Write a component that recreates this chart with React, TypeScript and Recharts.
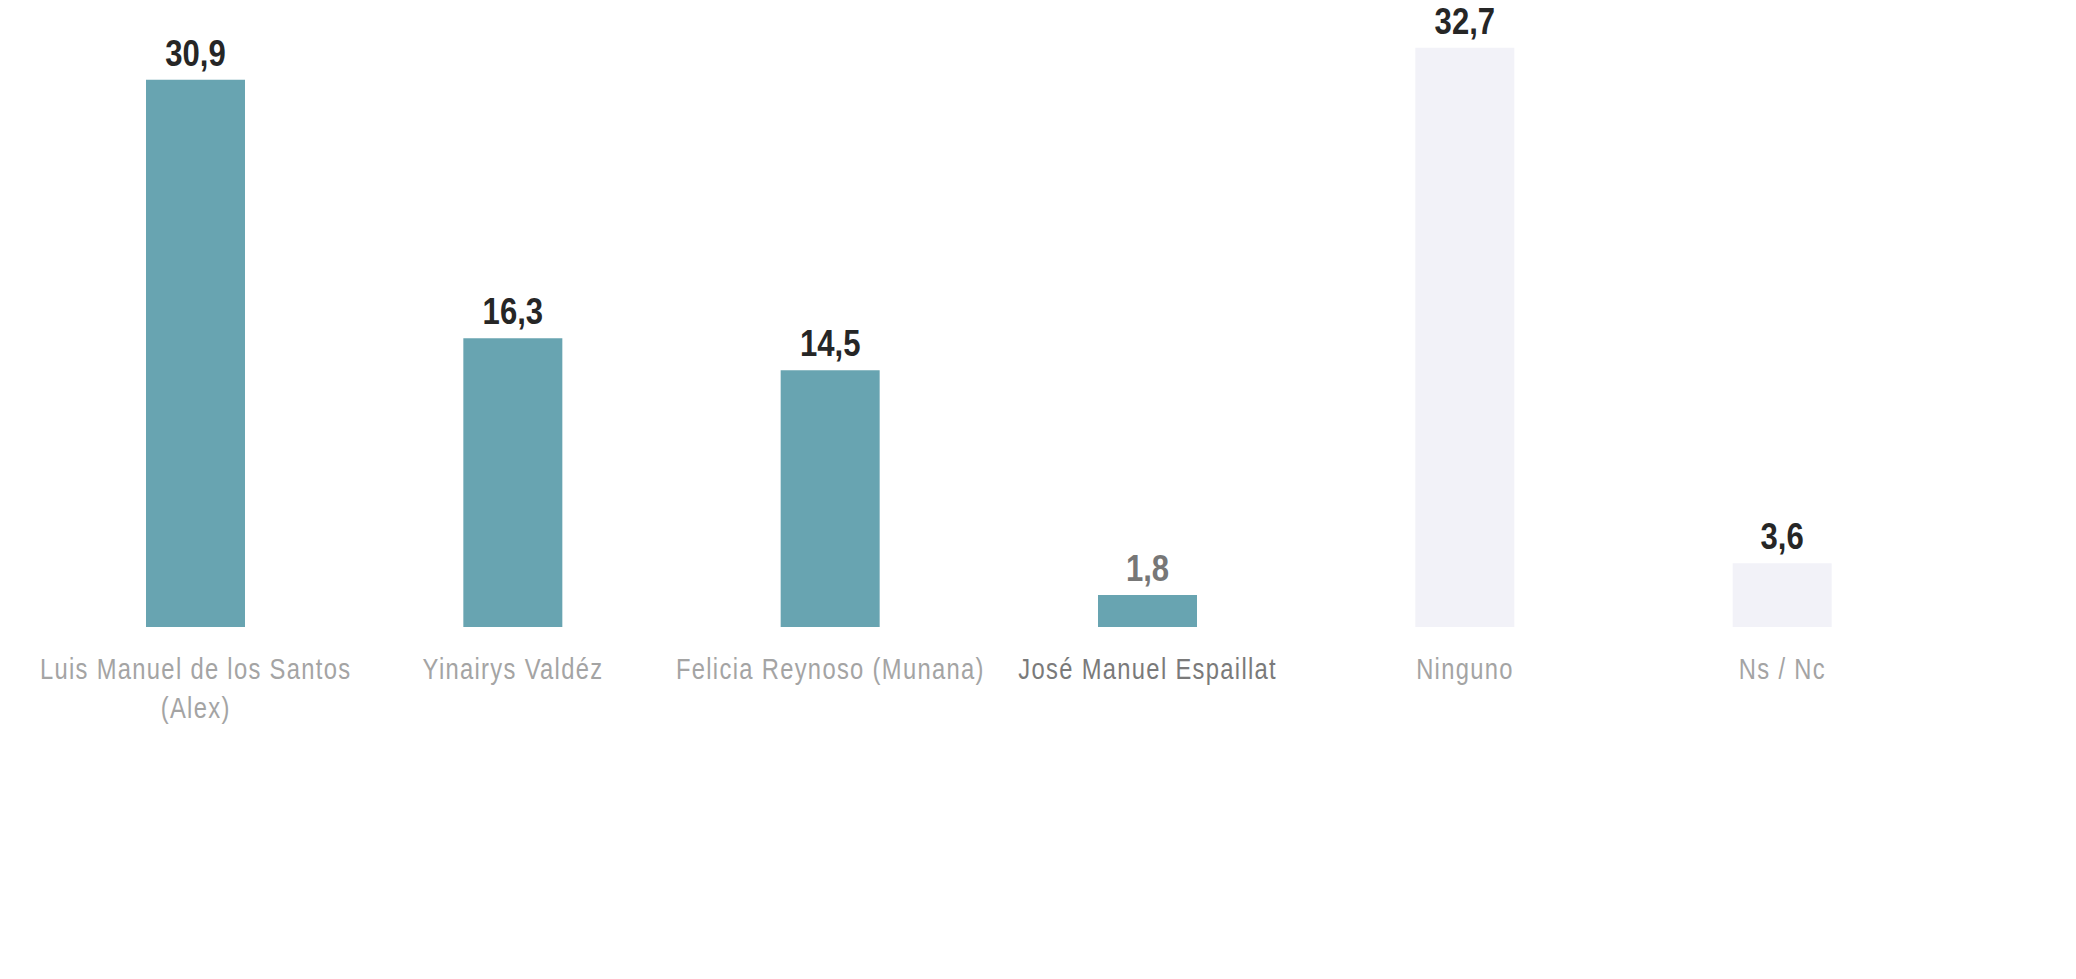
import React from 'react';
import { BarChart, Bar, XAxis, YAxis, Cell, LabelList } from 'recharts';

const categories = [
  'Luis Manuel de los Santos\n(Alex)',
  'Yinairys Valdéz',
  'Felicia Reynoso (Munana)',
  'José Manuel Espaillat',
  'Ninguno',
  'Ns / Nc',
];
const values = [30.9, 16.3, 14.5, 1.8, 32.7, 3.6];
const groups = ['candidato', 'candidato', 'candidato', 'candidato', 'otro', 'otro'];

const TEAL = '#68a4b1';
const PALE = '#f2f2f8';
// no narrow font installed, so squeeze Liberation Sans horizontally
const FONT = '"Liberation Sans", Arial, sans-serif';
const SQUEEZE = 0.82;

const data = categories.map((name, i) => ({ name, value: values[i], group: groups[i] }));

// the scanned original prints this one a bit greyer
const dimmed = 'José Manuel Espaillat';

function CategoryTick({ x, y, payload }: any) {
  const lines = String(payload.value).split('\n');
  const fill = payload.value === dimmed ? '#7a7a7a' : '#a4a4a4';
  return (
    <text
      transform={`translate(${x},${y}) scale(${SQUEEZE},1)`}
      textAnchor="middle"
      fill={fill}
      fontFamily={FONT}
      fontSize={29}
      letterSpacing={1.6}
    >
      {lines.map((l, i) => (
        <tspan key={i} x={0} dy={i === 0 ? 52 : 39}>
          {l}
        </tspan>
      ))}
    </text>
  );
}

function ValueLabel({ x, y, width, value, index }: any) {
  const fill = data[index].name === dimmed ? '#777777' : '#262626';
  return (
    <text
      transform={`translate(${x + width / 2},${y - 14}) scale(0.84,1)`}
      textAnchor="middle"
      fill={fill}
      fontFamily={FONT}
      fontWeight="bold"
      fontSize={37}
    >
      {String(value).replace('.', ',')}
    </text>
  );
}

export default function App() {
  return (
    <div style={{ position: 'absolute', left: 0, top: 0, background: '#fff' }}>
      <BarChart width={2076} height={979} data={data} margin={{ top: 7, right: 135, bottom: 292, left: 37 }}>
        <XAxis
          dataKey="name"
          height={60}
          axisLine={false}
          tickLine={false}
          tickSize={0}
          tickMargin={0}
          interval={0}
          tick={<CategoryTick />}
        />
        <YAxis hide domain={[0, 35]} />
        <Bar dataKey="value" barSize={99} isAnimationActive={false}>
          {data.map((d, i) => (
            <Cell key={i} fill={d.group === 'candidato' ? TEAL : PALE} />
          ))}
          <LabelList dataKey="value" content={<ValueLabel />} />
        </Bar>
      </BarChart>
    </div>
  );
}
